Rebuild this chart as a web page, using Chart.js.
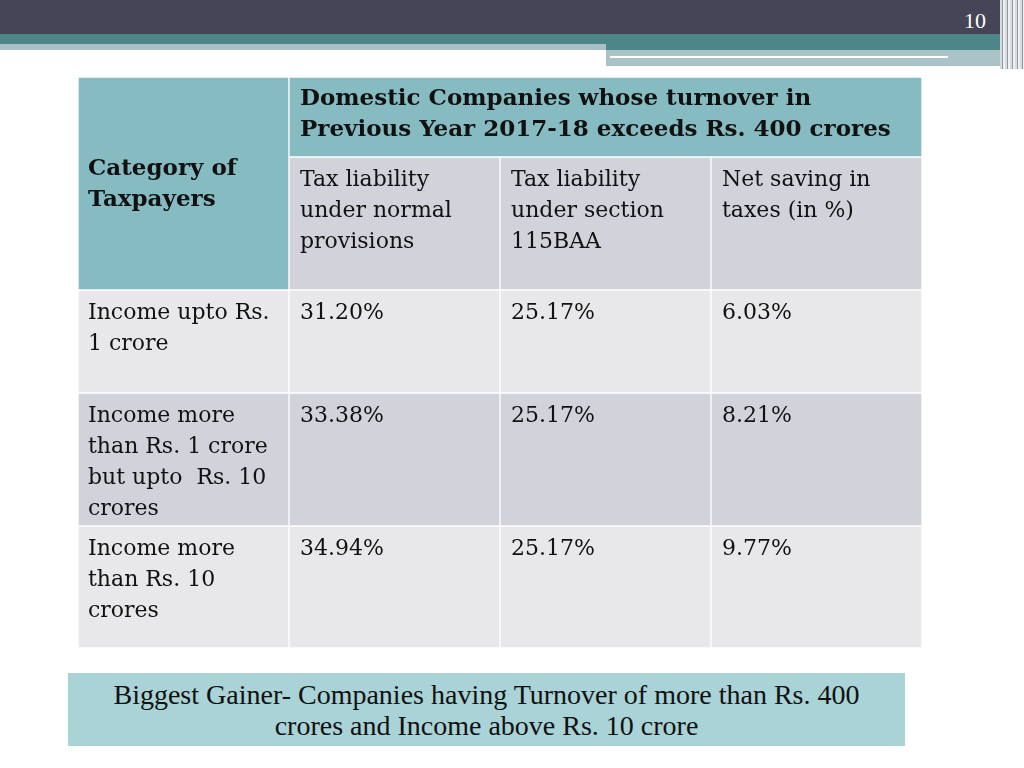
<!DOCTYPE html>
<html>
<head>
<meta charset="utf-8">
<script src="https://cdn.jsdelivr.net/npm/chart.js@4/dist/chart.umd.min.js"></script>
<style>
    body { margin: 0; width: 1024px; height: 768px; background: #fff; position: relative; overflow: hidden; font-family: 'DejaVu Serif', serif; }
    .band { position: absolute; }
    #tableChart { position: absolute; left: 78px; top: 77px; }
    #pageNo { position: absolute; left: 964px; top: 8px; color: #fff; font-size: 22px; font-family: 'Liberation Serif', serif; }
    #note { position: absolute; left: 68px; top: 673px; width: 837px; height: 73px; background: #a9d3d6;
            text-align: center; font-family: 'Liberation Serif', serif; font-size: 28px; line-height: 31px;
            padding-top: 6px; box-sizing: border-box; color: #111; }
</style>
</head>
<body>
<div class="band" style="left:0;top:0;width:1024px;height:34px;background:#454557"></div>
<div class="band" style="left:0;top:34px;width:1002px;height:10px;background:#4d8689"></div>
<div class="band" style="left:0;top:44px;width:606px;height:6px;background:#a9c1c4"></div>
<div class="band" style="left:606px;top:44px;width:396px;height:6px;background:#4d8689"></div>
<div class="band" style="left:606px;top:50px;width:396px;height:16px;background:#a9c3c6"></div>
<div class="band" style="left:610px;top:56px;width:338px;height:2px;background:#fff"></div>
<div class="band" style="left:826px;top:66px;width:176px;height:3px;background:#fff"></div>
<div class="band" style="left:1000px;top:0;width:24px;height:69px;background:repeating-linear-gradient(90deg,#d8dcdf 0 2px,#8c9aa3 2px 3px,#eef0f1 3px 5px)"></div>
<div id="pageNo">10</div>

<canvas id="tableChart" width="844" height="571"></canvas>

<div id="note">Biggest Gainer- Companies having Turnover of more than Rs. 400<br>crores and Income above Rs. 10 crore</div>

<script>
const groupTitle = ['Domestic Companies whose turnover in', 'Previous Year 2017-18 exceeds Rs. 400 crores'];
const columns = [
    ['Category of', 'Taxpayers'],
    ['Tax liability', 'under normal', 'provisions'],
    ['Tax liability', 'under section', '115BAA'],
    ['Net saving in', 'taxes (in %)']
];
const categories = [
    ['Income upto Rs.', '1 crore'],
    ['Income more', 'than Rs. 1 crore', 'but upto  Rs. 10', 'crores'],
    ['Income more', 'than Rs. 10', 'crores']
];
const normalTax = [31.20, 33.38, 34.94];
const section115BAA = [25.17, 25.17, 25.17];
const netSaving = [6.03, 8.21, 9.77];

// table layout: heights of the two header rows and the three body rows
const rowHeights = [80, 133, 103, 133, 122];
const teal = '#86bcc1';
const dark = '#d1d2da';
const light = '#e8e8ea';
const rowFills = [
    [teal, teal, teal, teal],
    [teal, dark, dark, dark],
    [light, light, light, light],
    [dark, dark, dark, dark],
    [light, light, light, light]
];

const bodyValues = categories.map((c, i) => [c, normalTax[i], section115BAA[i], netSaving[i]]);

function cellBorder(ctx) {
    const r = ctx.datasetIndex, c = ctx.dataIndex;
    const b = { top: 1, right: 1, bottom: 1, left: 1 };
    if (r === 0 && c === 0) b.bottom = 0;
    if (r === 1 && c === 0) b.top = 0;
    if (r === 0 && c > 0) { if (c < 3) b.right = 0; if (c > 1) b.left = 0; }
    return b;
}

const textPlugin = {
    id: 'cellText',
    afterDatasetsDraw(chart) {
        const ctx = chart.ctx;
        const box = (d, i) => {
            const el = chart.getDatasetMeta(d).data[i];
            const p = el.getProps(['x', 'y', 'base', 'width'], true);
            return { left: p.x - p.width / 2, top: Math.min(p.y, p.base), bottom: Math.max(p.y, p.base) };
        };
        const lh = 31, padX = 10, padTop = 22;
        ctx.save();
        ctx.fillStyle = '#111';
        ctx.textBaseline = 'middle';
        ctx.textAlign = 'left';

        const lines = (arr, x, y) => arr.forEach((t, k) => ctx.fillText(t, x, y + k * lh));

        // merged top-left header
        ctx.font = 'bold 23px "DejaVu Serif"';
        const a = box(0, 0), b = box(1, 0);
        const mid = (a.top + b.bottom) / 2;
        lines(columns[0], a.left + padX, mid - (columns[0].length - 1) * lh / 2 + 1);

        // group header over the value columns
        const g = box(0, 1);
        lines(groupTitle, g.left + padX + 1, g.top + padTop);

        ctx.font = '22px "DejaVu Serif"';
        for (let c = 1; c < 4; c++) {
            const h = box(1, c);
            lines(columns[c], h.left + padX + 1, h.top + padTop + 1);
        }

        bodyValues.forEach((row, r) => {
            row.forEach((v, c) => {
                const cell = box(r + 2, c);
                const txt = Array.isArray(v) ? v : [v.toFixed(2) + '%'];
                lines(txt, cell.left + padX + (c ? 1 : 0), cell.top + padTop + 1);
            });
        });
        ctx.restore();
    }
};

new Chart(document.getElementById('tableChart'), {
    type: 'bar',
    data: {
        labels: columns.map(c => c.join(' ')),
        datasets: rowHeights.map((h, r) => ({
            label: 'row ' + r,
            data: columns.map(() => h),
            backgroundColor: rowFills[r],
            borderColor: '#ffffff',
            borderWidth: cellBorder,
            borderSkipped: false,
            barPercentage: 1,
            categoryPercentage: 1,
            stack: 'table'
        }))
    },
    options: {
        responsive: false,
        animation: false,
        layout: { padding: 0 },
        plugins: { legend: { display: false }, tooltip: { enabled: false } },
        scales: {
            x: { stacked: true, display: false, offset: true },
            y: { stacked: true, display: false, reverse: true, min: 0, max: rowHeights.reduce((s, h) => s + h, 0) }
        }
    },
    plugins: [textPlugin]
});
</script>
</body>
</html>
